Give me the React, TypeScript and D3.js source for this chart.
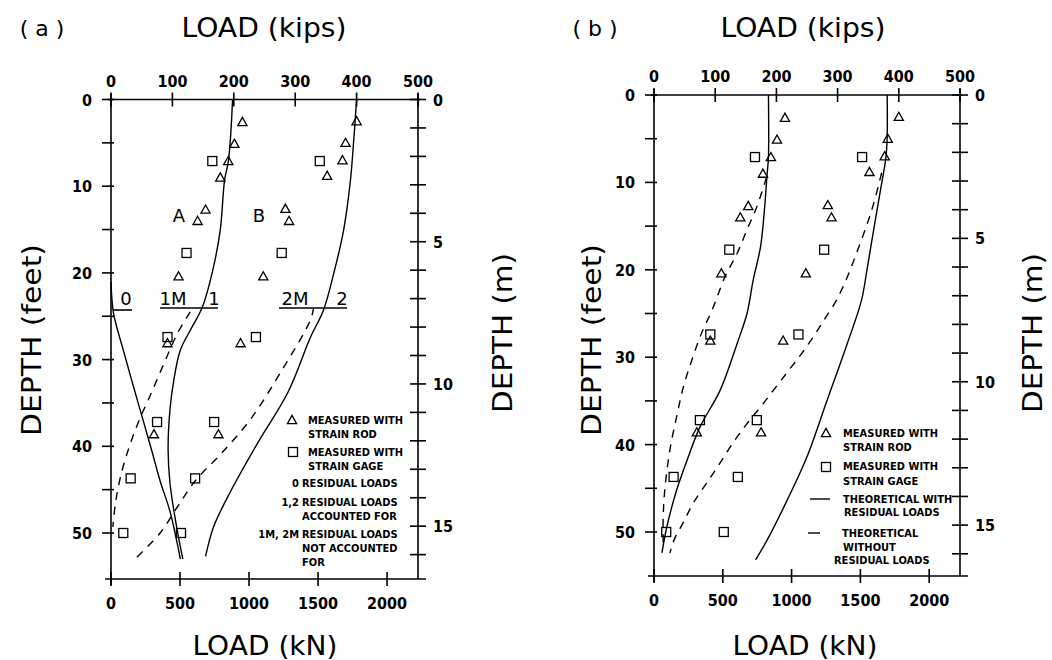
import React from 'react';
import * as d3 from 'd3';

const W = 1052;
const H = 660;
const KN_PER_KIP = 4.448;
const M_PER_FT = 0.3048;

// axis ticks
const kipTicks = [0, 100, 200, 300, 400, 500];
const knTicks = [0, 500, 1000, 1500, 2000];
const ftTicks = [0, 5, 10, 15, 20, 25, 30, 35, 40, 45, 50];
const ftLabels = [0, 10, 20, 30, 40, 50];
const mTicks = d3.range(0, 17);
const mLabels = [0, 5, 10, 15];

// measured loads [kips, depth ft]
const rodPoints: [number, number][] = [
  [214, 2.6], [201, 5.1], [191, 7.1], [178, 9.0], [154, 12.7], [141, 14.0], [110, 20.4], [92, 28.1], [70, 38.6],
  [400, 2.5], [382, 5.0], [377, 7.0], [352, 8.8], [284, 12.6], [290, 14.0], [248, 20.4], [211, 28.1], [175, 38.6],
];
const gagePoints: [number, number][] = [
  [165, 7.1], [123, 17.7], [92, 27.4], [75, 37.2], [32, 43.7], [20, 50.0],
  [340, 7.1], [278, 17.7], [236, 27.4], [168, 37.2], [137, 43.7], [114, 50.0],
];

// panel (a) theoretical curves
const curveA0: [number, number][] = [
  [0, 21], [4, 24.6], [20, 28.9], [43, 34.7], [66, 40.4], [80, 44.0], [96, 47.5], [113, 53],
];
const curveA1: [number, number][] = [
  [198, 0], [195, 4], [191, 7.2], [185, 9.3], [178, 15], [167, 19.3], [149, 23.9], [130, 26.5], [113, 28.9],
  [102, 32.5], [96, 35.8], [93, 40.4], [96, 44.2], [104, 48.1], [113, 51.6], [117, 53],
];
const curveA2: [number, number][] = [
  [400, 0], [395, 5], [390, 9.3], [379, 15], [363, 20], [346, 24.3], [325, 27.4], [288, 33.8], [239, 39.6],
  [194, 45.3], [167, 49.3], [154, 52.7],
];
const curveA1M: [number, number][] = [
  [129, 24.5], [108, 27], [86, 30.5], [66, 33.8], [47, 36.8], [31, 39.8], [18, 42.8], [8, 46.2], [3, 49.3],
];
const curveA2M: [number, number][] = [
  [330, 24], [325, 25.4], [276, 31.5], [227, 36.9], [180, 40.8], [137, 44], [108, 47], [80, 50], [42, 52.8],
];

// panel (b) theoretical curves
const curveB1: [number, number][] = [
  [187, 0], [187, 7.1], [185, 8.9], [180, 13.5], [174, 17.4], [162, 21.2], [152, 25], [136, 28.4], [108, 33.8],
  [75, 38], [54, 41.8], [37, 45.2], [21, 49.4], [13, 52.4],
];
const curveB2: [number, number][] = [
  [381, 0], [381, 4.8], [379, 7.1], [370, 10.9], [359, 15.4], [348, 20], [339, 23.5], [316, 28.4], [283, 34.9],
  [250, 41.4], [218, 46.3], [185, 50.9], [166, 53.2],
];
const curveB1N: [number, number][] = [
  [184, 9.4], [168, 12.8], [152, 15.4], [136, 18.1], [116, 20.8], [95, 24.6], [78, 27.2], [62, 30.3], [48, 33.4],
  [37, 36.8], [26, 40.6], [18, 44.9], [15, 48.3], [15, 51.7],
];
const curveB2N: [number, number][] = [
  [372, 8.9], [359, 12.4], [349, 14.6], [333, 17.7], [316, 20.8], [298, 23.5], [280, 25.5], [261, 27.6], [239, 29.8],
  [218, 31.7], [195, 33.8], [174, 35.7], [152, 37.6], [130, 39.7], [108, 42.1], [87, 44.3], [64, 46.7], [48, 48.9],
  [34, 50.7], [26, 52.4],
];

const TITLE_FONT = "'DejaVu Sans', sans-serif";
const NUM_FONT = "'DejaVu Sans Condensed', 'DejaVu Sans', sans-serif";

type Frame = {
  left: number; right: number; top: number; y50: number; bottom: number;
  titleX: number; botTitleX: number; feetX: number; meterX: number; tag: string; tagX: number;
};

const frameA: Frame = { left: 111, right: 418, top: 99.5, y50: 533, bottom: 579, titleX: 264, botTitleX: 265, feetX: 32, meterX: 503, tag: '( a )', tagX: 42 };
const frameB: Frame = { left: 654, right: 960, top: 95, y50: 532, bottom: 576, titleX: 803, botTitleX: 805, feetX: 592, meterX: 1033, tag: '( b )', tagX: 595 };

const tri = (cx: number, cy: number) => `M${cx},${cy - 4.6}L${cx - 4.6},${cy + 3.6}L${cx + 4.6},${cy + 3.6}Z`;

function Panel({ f, curves, children }: { f: Frame; curves: { pts: [number, number][]; dashed?: boolean }[]; children?: React.ReactNode }) {
  const x = d3.scaleLinear().domain([0, 500]).range([f.left, f.right]);
  const y = d3.scaleLinear().domain([0, 50]).range([f.top, f.y50]);
  const xKN = d3.scaleLinear().domain([0, 500 * KN_PER_KIP]).range([f.left, f.right]);
  const yM = d3.scaleLinear().domain([0, 50 * M_PER_FT]).range([f.top, f.y50]);
  const line = d3.line<[number, number]>().x(d => x(d[0])).y(d => y(d[1])).curve(d3.curveCatmullRom.alpha(0.5));
  const ax = { stroke: '#000', strokeWidth: 1.6 };

  return (
    <g>
      {/* titles */}
      <text x={f.tagX} y={36} textAnchor="middle" fontFamily={TITLE_FONT} fontSize={22} style={{ whiteSpace: 'pre' }}>{f.tag}</text>
      <text x={f.titleX} y={37} textAnchor="middle" fontFamily={TITLE_FONT} fontSize={26} textLength={165} lengthAdjust="spacingAndGlyphs">LOAD (kips)</text>
      <text x={f.botTitleX} y={655} textAnchor="middle" fontFamily={TITLE_FONT} fontSize={26} textLength={145} lengthAdjust="spacingAndGlyphs">LOAD (kN)</text>
      <text transform={`translate(${f.feetX},340) rotate(-90)`} dy="0.36em" textAnchor="middle" fontFamily={TITLE_FONT} fontSize={26} textLength={192} lengthAdjust="spacingAndGlyphs">DEPTH (feet)</text>
      <text transform={`translate(${f.meterX},333) rotate(-90)`} dy="0.36em" textAnchor="middle" fontFamily={TITLE_FONT} fontSize={26} textLength={160} lengthAdjust="spacingAndGlyphs">DEPTH (m)</text>

      {/* frame lines */}
      <line x1={f.left - 3} x2={f.right + 2} y1={f.top} y2={f.top} {...ax} />
      <line x1={f.left - 6} x2={f.right + 8} y1={f.bottom} y2={f.bottom} {...ax} />
      <line x1={f.left} x2={f.left} y1={f.top - 6} y2={f.bottom + 6} {...ax} />
      <line x1={f.right} x2={f.right} y1={f.top - 6} y2={f.bottom} {...ax} />

      {/* top kip axis */}
      {kipTicks.map(t => (
        <g key={'k' + t}>
          <line x1={x(t)} x2={x(t)} y1={f.top - 7} y2={f.top + 7} {...ax} />
          <text x={x(t)} y={f.top - 13} textAnchor="middle" fontFamily={NUM_FONT} fontWeight="bold" fontSize={16}>{t}</text>
        </g>
      ))}
      {/* bottom kN axis */}
      {knTicks.map(t => (
        <g key={'n' + t}>
          <line x1={xKN(t)} x2={xKN(t)} y1={f.bottom - 7} y2={f.bottom + 7} {...ax} />
          <text x={xKN(t)} y={f.bottom + 30} textAnchor="middle" fontFamily={NUM_FONT} fontWeight="bold" fontSize={16}>{t}</text>
        </g>
      ))}
      {/* left feet axis */}
      {ftTicks.map(t => (
        <line key={'f' + t} x1={f.left - 9} x2={f.left + 3} y1={y(t)} y2={y(t)} {...ax} />
      ))}
      {ftLabels.map(t => (
        <text key={'fl' + t} x={f.left - 19} y={y(t) + 6} textAnchor="end" fontFamily={NUM_FONT} fontWeight="bold" fontSize={16}>{t}</text>
      ))}
      {/* right meter axis */}
      {mTicks.map(t => (
        <line key={'m' + t} x1={f.right - 8} x2={f.right + 8} y1={yM(t)} y2={yM(t)} {...ax} />
      ))}
      {mLabels.map(t => (
        <text key={'ml' + t} x={f.right + 15} y={yM(t) + 6} textAnchor="start" fontFamily={NUM_FONT} fontWeight="bold" fontSize={16}>{t}</text>
      ))}

      {/* theoretical curves */}
      {curves.map((c, i) => (
        <path key={'c' + i} d={line(c.pts) || ''} fill="none" stroke="#000" strokeWidth={1.4}
          strokeDasharray={c.dashed ? '8 7' : undefined} />
      ))}

      {/* measured */}
      {rodPoints.map((p, i) => (
        <path key={'r' + i} d={tri(x(p[0]), y(p[1]))} fill="none" stroke="#000" strokeWidth={1.3} />
      ))}
      {gagePoints.map((p, i) => (
        <rect key={'s' + i} x={x(p[0]) - 4.5} y={y(p[1]) - 4.5} width={9} height={9} fill="none" stroke="#000" strokeWidth={1.3} />
      ))}
      {children}
    </g>
  );
}

const LEG_FONT = "'DejaVu Sans Condensed', 'DejaVu Sans', sans-serif";
const legText = (x: number, yy: number, s: string, anchor: 'start' | 'end' = 'start') => (
  <text x={x} y={yy} textAnchor={anchor} fontFamily={LEG_FONT} fontWeight="bold" fontSize={11}>{s}</text>
);

export default function App() {
  const lab = { fontFamily: TITLE_FONT, fontSize: 18 } as const;
  return (
    <svg width={W} height={H} style={{ position: 'absolute', left: 0, top: 0, background: '#fff' }}>
      <rect width={W} height={H} fill="#fff" />
      <Panel f={frameA} curves={[
        { pts: curveA0 }, { pts: curveA1 }, { pts: curveA2 },
        { pts: curveA1M, dashed: true }, { pts: curveA2M, dashed: true },
      ]}>
        <text x={179} y={222} textAnchor="middle" {...lab}>A</text>
        <text x={259} y={222} textAnchor="middle" {...lab}>B</text>
        <text x={126} y={305} textAnchor="middle" {...lab}>0</text>
        <text x={173} y={305} textAnchor="middle" {...lab}>1M</text>
        <text x={214} y={305} textAnchor="middle" {...lab}>1</text>
        <text x={295} y={305} textAnchor="middle" {...lab}>2M</text>
        <text x={342} y={305} textAnchor="middle" {...lab}>2</text>
        <line x1={113} x2={132} y1={310} y2={310} stroke="#000" strokeWidth={1.6} />
        <line x1={160} x2={218} y1={308} y2={308} stroke="#000" strokeWidth={1.6} />
        <line x1={279} x2={347} y1={308} y2={308} stroke="#000" strokeWidth={1.6} />

        <path d={tri(292, 420)} fill="none" stroke="#000" strokeWidth={1.3} />
        {legText(308, 424, 'MEASURED WITH')}
        {legText(308, 438, 'STRAIN ROD')}
        <rect x={288.5} y={447.5} width={9} height={9} fill="none" stroke="#000" strokeWidth={1.3} />
        {legText(308, 456, 'MEASURED WITH')}
        {legText(308, 470, 'STRAIN GAGE')}
        {legText(299, 487, '0', 'end')}
        {legText(302, 487, 'RESIDUAL LOADS')}
        {legText(299, 506, '1,2', 'end')}
        {legText(302, 506, 'RESIDUAL LOADS')}
        {legText(302, 520, 'ACCOUNTED FOR')}
        {legText(299, 538, '1M, 2M', 'end')}
        {legText(302, 538, 'RESIDUAL LOADS')}
        {legText(302, 552, 'NOT ACCOUNTED')}
        {legText(302, 566, 'FOR')}
      </Panel>
      <Panel f={frameB} curves={[
        { pts: curveB1 }, { pts: curveB2 },
        { pts: curveB1N, dashed: true }, { pts: curveB2N, dashed: true },
      ]}>
        <path d={tri(826, 433)} fill="none" stroke="#000" strokeWidth={1.3} />
        {legText(843, 437, 'MEASURED WITH')}
        {legText(843, 451, 'STRAIN ROD')}
        <rect x={821.5} y={462.5} width={9} height={9} fill="none" stroke="#000" strokeWidth={1.3} />
        {legText(843, 470, 'MEASURED WITH')}
        {legText(843, 485, 'STRAIN GAGE')}
        <line x1={810} x2={830} y1={499} y2={499} stroke="#000" strokeWidth={1.4} />
        {legText(843, 503, 'THEORETICAL WITH')}
        {legText(844, 516, 'RESIDUAL LOADS')}
        <line x1={808} x2={820} y1={533} y2={533} stroke="#000" strokeWidth={1.4} />
        {legText(842, 537, 'THEORETICAL')}
        {legText(843, 551, 'WITHOUT')}
        {legText(834, 564, 'RESIDUAL LOADS')}
      </Panel>
    </svg>
  );
}
